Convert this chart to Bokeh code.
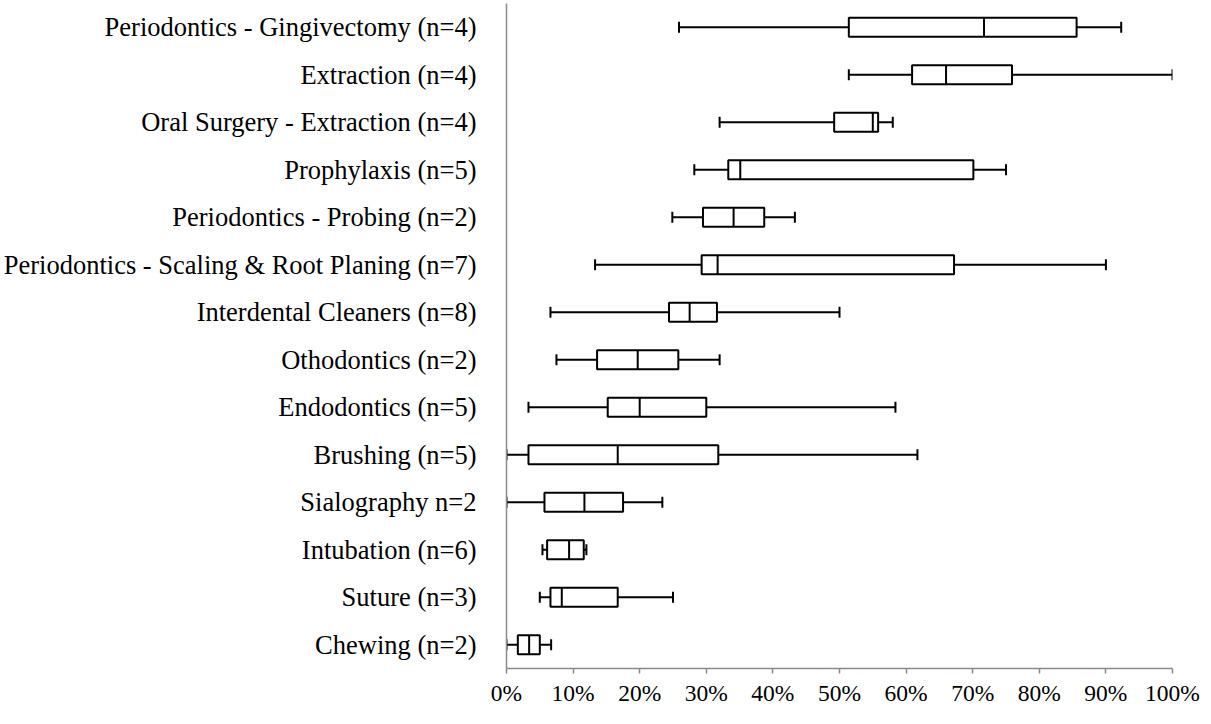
from bokeh.plotting import figure
from bokeh.models import FactorRange, FixedTicker, NumeralTickFormatter, ColumnDataSource, Range1d
from bokeh.transform import dodge
from bokeh.embed import file_html
from bokeh.resources import INLINE

categories = [
    "Periodontics - Gingivectomy (n=4)",
    "Extraction (n=4)",
    "Oral Surgery - Extraction (n=4)",
    "Prophylaxis (n=5)",
    "Periodontics - Probing (n=2)",
    "Periodontics - Scaling & Root Planing (n=7)",
    "Interdental Cleaners (n=8)",
    "Othodontics (n=2)",
    "Endodontics (n=5)",
    "Brushing (n=5)",
    "Sialography n=2",
    "Intubation (n=6)",
    "Suture (n=3)",
    "Chewing (n=2)",
]
whisker_min = [0.259, 0.514, 0.320, 0.282, 0.249, 0.133, 0.066, 0.075, 0.033, 0.000, 0.000, 0.054, 0.050, 0.000]
q1          = [0.514, 0.609, 0.492, 0.333, 0.295, 0.293, 0.244, 0.136, 0.152, 0.033, 0.057, 0.061, 0.066, 0.017]
median      = [0.717, 0.660, 0.550, 0.351, 0.341, 0.317, 0.275, 0.197, 0.200, 0.167, 0.117, 0.094, 0.083, 0.034]
q3          = [0.856, 0.759, 0.558, 0.701, 0.387, 0.672, 0.316, 0.258, 0.300, 0.318, 0.175, 0.116, 0.167, 0.050]
whisker_max = [0.923, 1.000, 0.580, 0.750, 0.433, 0.900, 0.500, 0.320, 0.584, 0.617, 0.234, 0.120, 0.250, 0.067]
x_ticks = [0.0, 0.1, 0.2, 0.3, 0.4, 0.5, 0.6, 0.7, 0.8, 0.9, 1.0]

FONT = "Liberation Serif"
AXIS_GRAY = "#8a8a8a"

src = ColumnDataSource(dict(cat=categories, lo=whisker_min, q1=q1, med=median, q3=q3, hi=whisker_max))

p = figure(
    width=1203, height=708,
    y_range=FactorRange(factors=list(reversed(categories)), range_padding=0),
    x_range=Range1d(0, 1),
    output_backend="svg", toolbar_location=None,
    min_border_left=501, min_border_right=31, min_border_top=3, min_border_bottom=38,
)
p.outline_line_color = None
p.xgrid.grid_line_color = None
p.ygrid.grid_line_color = None
p.background_fill_color = "white"
p.border_fill_color = "white"

BOX_H = 0.40
CAP_H = 0.23

# whiskers
p.segment(x0="lo", x1="q1", y0="cat", y1="cat", source=src, line_color="black", line_width=2)
p.segment(x0="q3", x1="hi", y0="cat", y1="cat", source=src, line_color="black", line_width=2)
# caps
p.segment(x0="lo", x1="lo", y0=dodge("cat", -CAP_H / 2, range=p.y_range), y1=dodge("cat", CAP_H / 2, range=p.y_range),
          source=src, line_color="black", line_width=2)
p.segment(x0="hi", x1="hi", y0=dodge("cat", -CAP_H / 2, range=p.y_range), y1=dodge("cat", CAP_H / 2, range=p.y_range),
          source=src, line_color="black", line_width=2)
# boxes
p.hbar(y="cat", left="q1", right="q3", height=BOX_H, source=src, fill_color="white", line_color="black", line_width=2)
# medians
p.segment(x0="med", x1="med", y0=dodge("cat", -BOX_H / 2, range=p.y_range), y1=dodge("cat", BOX_H / 2, range=p.y_range),
          source=src, line_color="black", line_width=2)

xa = p.xaxis[0]
xa.ticker = FixedTicker(ticks=x_ticks)
xa.formatter = NumeralTickFormatter(format="0%")
xa.axis_line_color = AXIS_GRAY
xa.axis_line_width = 1.5
xa.major_tick_line_color = AXIS_GRAY
xa.major_tick_line_width = 1.5
xa.major_tick_out = 5
xa.major_tick_in = 0
xa.minor_tick_line_color = None
xa.major_label_text_font = FONT
xa.major_label_text_font_size = "23.5px"
xa.major_label_text_color = "black"
xa.major_label_standoff = 6

ya = p.yaxis[0]
ya.axis_line_color = AXIS_GRAY
ya.axis_line_width = 1.5
ya.major_tick_line_color = None
ya.minor_tick_line_color = None
ya.major_label_text_font = FONT
ya.major_label_text_font_size = "26.5px"
ya.major_label_text_color = "black"
ya.major_label_standoff = 24

open("out.html", "w").write(file_html(p, INLINE))
